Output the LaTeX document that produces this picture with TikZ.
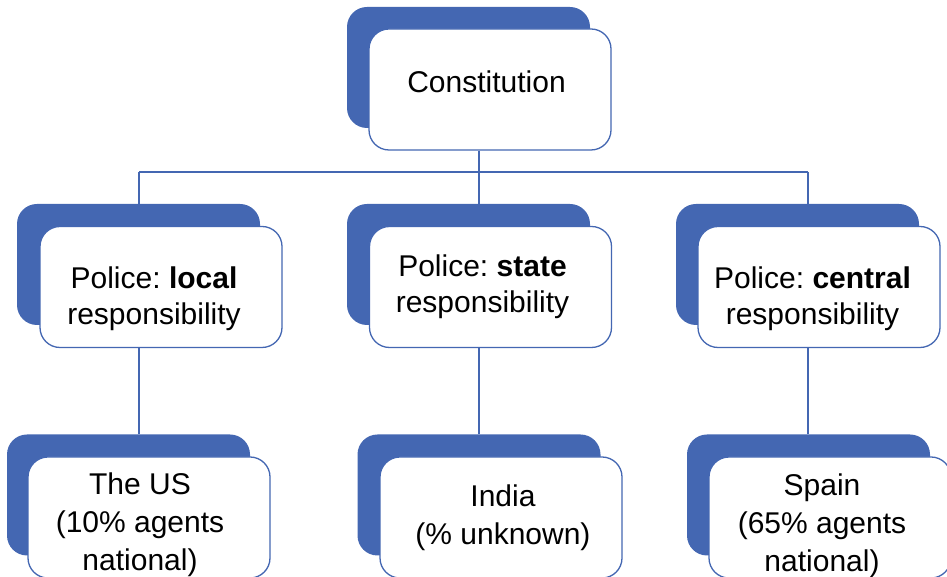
\documentclass[tikz,border=0pt]{standalone}
\usepackage{fontspec}
\setmainfont{Liberation Sans}
\usepackage{tikz}

\definecolor{officeblue}{HTML}{4467B2}

\tikzset{
	backbox/.style={shape=rectangle,rounded corners=20pt,fill=officeblue,minimum width=243pt,minimum height=121pt,inner sep=0pt},
	frontbox/.style={shape=rectangle,rounded corners=20pt,draw=officeblue,line width=1.3pt,fill=white,minimum width=242pt,minimum height=121pt,inner sep=0pt},
	txt/.style={align=center,inner sep=0pt,font=\fontsize{30}{36}\selectfont},
	lowtxt/.style={txt,font=\fontsize{30}{38}\selectfont},
	link/.style={draw=officeblue,line width=1.4pt}
}

\begin{document}
\frenchspacing
\begin{tikzpicture}[x=1pt,y=1pt]
	\useasboundingbox (0,0) rectangle (947,577);
	\clip (0,0) rectangle (947,577);

	\coordinate (busL) at (139,405);
	\coordinate (busM) at (479,405);
	\coordinate (busR) at (808,405);

	\node [backbox] (Cob) at (468.5,509.5) {};
	\node [frontbox] (Co) at (490,487.5) {};
	\node [txt] (Cot) at (486.5,495.5) {Constitution};

	\node [backbox] (Lob) at (138.5,312.5) {};
	\node [frontbox] (Lo) at (161,290) {};
	\node [txt] (Lot) at (154,278.5) {Police: \textbf{local}\\responsibility};
	\node [backbox] (Stb) at (468.5,312.5) {};
	\node [frontbox] (St) at (490.5,290) {};
	\node [txt] (Stt) at (482.5,290) {Police: \textbf{state}\\responsibility};
	\node [backbox] (Ceb) at (797.5,312.5) {};
	\node [frontbox] (Ce) at (819,290) {};
	\node [txt] (Cet) at (812.5,278.5) {Police: \textbf{central}\\responsibility};

	\node [backbox] (USb) at (128.5,82) {};
	\node [frontbox] (US) at (149,59.5) {};
	\node [lowtxt] (USt) at (140,52.5) {The US\\(10\% agents\\national)};
	\node [backbox] (Inb) at (479,82) {};
	\node [frontbox] (In) at (501,59.5) {};
	\node [lowtxt] (Int) at (503,59.5) {India\\(\% unknown)};
	\node [backbox] (Spb) at (808.5,82) {};
	\node [frontbox] (Sp) at (830,59.5) {};
	\node [lowtxt] (Spt) at (822,51.5) {Spain\\(65\% agents\\national)};

	\path [link] (busM |- Co.south) -- (busM);
	\path [link] (busL) -- (busR);
	\path [link] (busL) -- (busL |- Lob.north);
	\path [link] (busM) -- (busM |- Stb.north);
	\path [link] (busR) -- (busR |- Ceb.north);
	\path [link] (busL |- Lo.south) -- (busL |- USb.north);
	\path [link] (busM |- St.south) -- (busM |- Inb.north);
	\path [link] (busR |- Ce.south) -- (busR |- Spb.north);
\end{tikzpicture}
\end{document}
